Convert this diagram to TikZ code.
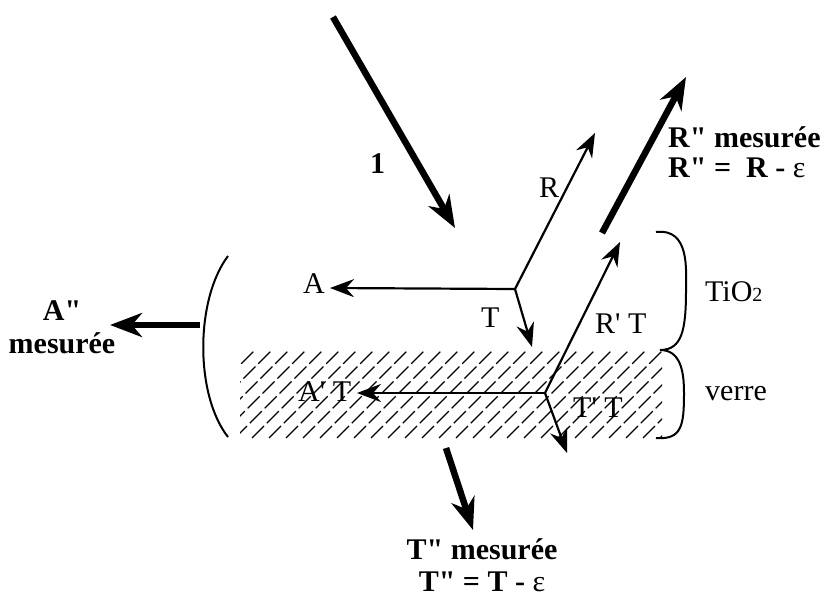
\documentclass[tikz,border=0pt]{standalone}
\usetikzlibrary{arrows.meta}
\font\lsr="Liberation Serif" at 30pt
\font\lsb="Liberation Serif/B" at 30pt
\font\lss="Liberation Serif" at 20pt
\begin{document}
\begin{tikzpicture}[x=1pt,y=-1pt,
  thinarrow/.style={line width=2.2pt,-{Stealth[length=24pt,width=18pt,inset=8pt]}},
  thickarrow/.style={line width=6.5pt,-{Stealth[length=32pt,width=24pt,inset=10pt]}},
  lbl/.style={inner sep=0pt,font=\lsr},
  blbl/.style={inner sep=0pt,font=\lsb},
  hatchline/.style={line width=1.1pt,dash pattern=on 17pt off 4pt},
  bracket/.style={line width=2pt}]
\useasboundingbox (0,0) rectangle (835,596);
% hatched glass layer
\begin{scope}
  \clip (240,350) rectangle (662,438);
  \foreach \i in {0,...,32} {
    \draw[hatchline] (150+\i*17,438) -- ++(100,-100);
  }
\end{scope}
% coordinates
\coordinate (J1) at (515,289);
\coordinate (J2) at (545,393);
\coordinate (inS) at (333,17);
\coordinate (inE) at (455,228);
\coordinate (Atip) at (330,288);
\coordinate (Rtip) at (595,133);
\coordinate (Ttip) at (532,347);
\coordinate (RTtip) at (620,242);
\coordinate (ATtip) at (357,393);
\coordinate (TTtip) at (567,453);
\coordinate (RmS) at (602,233);
\coordinate (RmE) at (686,77);
\coordinate (AmS) at (200,325);
\coordinate (AmE) at (110,325);
\coordinate (TmS) at (446,448);
\coordinate (TmE) at (473,530);
\coordinate (bT) at (228,256);
\coordinate (bB) at (228,437);
\coordinate (cT) at (656,232);
\coordinate (cM) at (660,350);
\coordinate (cB) at (656,438);
% left bracket
\draw[bracket] (bT) .. controls (195,300) and (195,395) .. (bB);
% right braces
\draw[bracket] (cT) .. controls (690,228) and (686,270) .. (686,290)
  .. controls (686,330) and (682,350) .. (cM);
\draw[bracket] (cM) .. controls (680,350) and (684,370) .. (684,393)
  .. controls (684,425) and (682,440) .. (cB);
% arrows
\draw[thickarrow] (inS) -- (inE);
\draw[thinarrow] (J1) -- (Atip);
\draw[thinarrow] (J1) -- (Rtip);
\draw[thinarrow] (J1) -- (Ttip);
\draw[thinarrow] (J2) -- (RTtip);
\draw[thinarrow] (J2) -- (ATtip);
\draw[thinarrow] (J2) -- (TTtip);
\draw[thickarrow] (RmS) -- (RmE);
\draw[thickarrow] (AmS) -- (AmE);
\draw[thickarrow] (TmS) -- (TmE);
% labels
\node[blbl,anchor=base west] (l1) at (370,174) {1};
\node[lbl,anchor=base west] (lA) at (303,293) {A};
\node[lbl,anchor=base west] (lT) at (481,327) {T};
\node[lbl,anchor=base west] (lR) at (539,198) {R};
\node[lbl,anchor=base west] (lRT) at (595,333) {R' T};
\node[lbl,anchor=base west] (lAT) at (298,401) {A' T};
\node[lbl,anchor=base west] (lTT) at (573,417) {T' T};
\node[lbl,anchor=base west] (lTi) at (705,301) {TiO{\lss 2}};
\node[lbl,anchor=base west] (lv) at (705,400) {verre};
\node[blbl,anchor=base west] (lRm1) at (668,148) {R" mesurée};
\node[blbl,anchor=base west] (lRm2) at (668,178) {R" =\ \ R - {\lsr ε}};
\node[blbl,anchor=base] (lAm1) at (62,320) {A"};
\node[blbl,anchor=base] (lAm2) at (62,353) {mesurée};
\node[blbl,anchor=base] (lTm1) at (482,559) {T" mesurée};
\node[blbl,anchor=base] (lTm2) at (482,591) {T" = T - {\lsr ε}};
\end{tikzpicture}
\end{document}
